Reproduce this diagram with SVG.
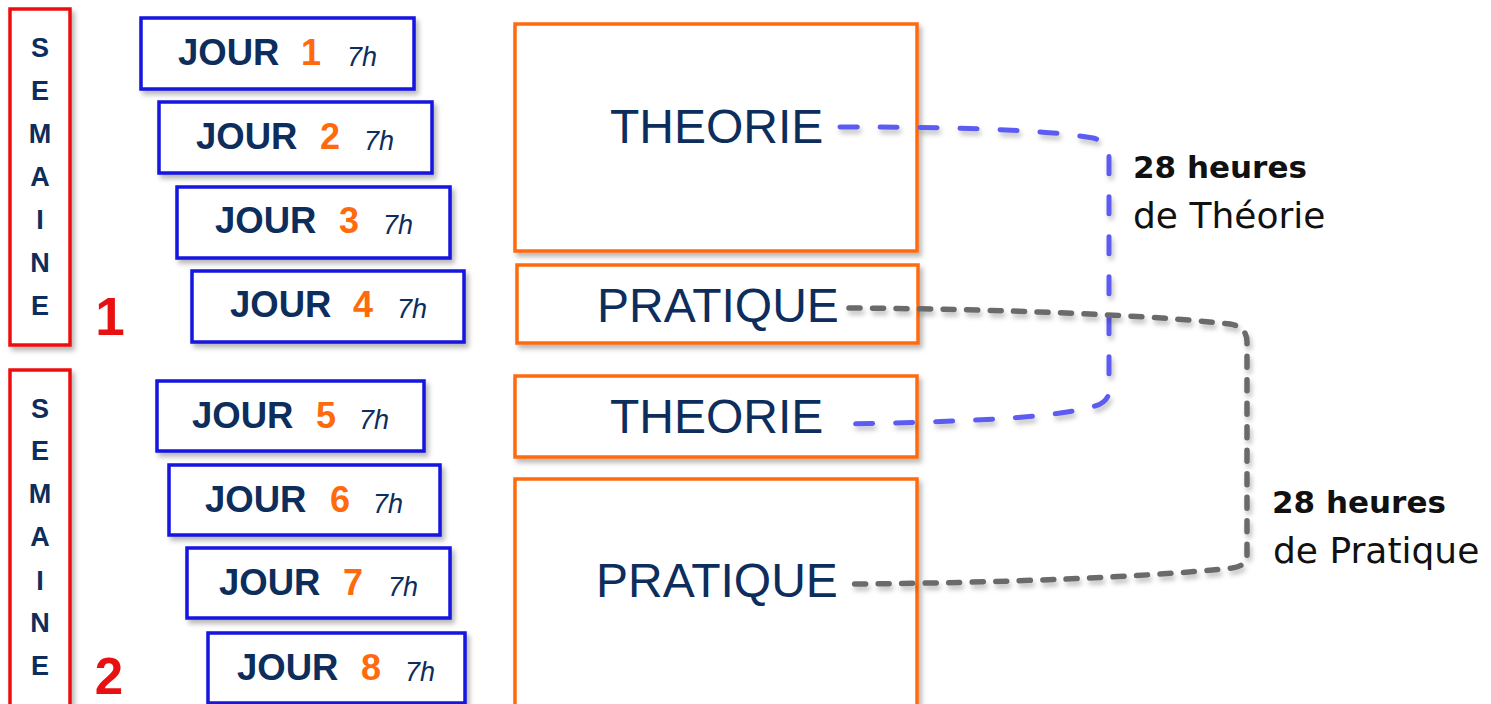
<svg xmlns="http://www.w3.org/2000/svg" width="1491" height="704" viewBox="0 0 1491 704">
<defs>
<filter id="sh" x="-10%" y="-10%" width="130%" height="140%">
<feDropShadow dx="3" dy="4" stdDeviation="2.5" flood-color="#000" flood-opacity="0.28"/>
</filter>
<filter id="lsh" x="-5%" y="-10%" width="110%" height="130%">
<feDropShadow dx="2" dy="4" stdDeviation="2.5" flood-color="#000" flood-opacity="0.25"/>
</filter>
<style>
.sem{fill:#fff;stroke:#ee1111;stroke-width:3.5}
.day{fill:#fff;stroke:#1515e0;stroke-width:3.5}
.blk{fill:#fff;stroke:#ff6a0d;stroke-width:3.5}
.let{font-family:"Liberation Sans",Arial,sans-serif;font-weight:bold;font-size:27px;fill:#0d2d5c;text-anchor:middle}
.wk{font-family:"Liberation Sans",Arial,sans-serif;font-weight:bold;font-size:53px;fill:#e81010;text-anchor:middle}
.jour{font-family:"Liberation Sans",Arial,sans-serif;font-weight:bold;font-size:36.5px;fill:#0d2d5c}
.num{font-family:"Liberation Sans",Arial,sans-serif;font-weight:bold;font-size:36px;fill:#ff6a0d;text-anchor:middle}
.hr{font-family:"Liberation Sans",Arial,sans-serif;font-style:italic;font-size:27px;fill:#0d2d5c}
.big{font-family:"Liberation Sans",Arial,sans-serif;font-size:48px;fill:#0d2d5c}
.lb{font-family:"DejaVu Sans",sans-serif;font-weight:bold;font-size:31px;fill:#111}
.lr{font-family:"DejaVu Sans",sans-serif;font-size:36px;fill:#111}
.cb{fill:none;stroke:#5c5cf2;stroke-width:5;stroke-linecap:round;stroke-dasharray:17 23}
.cg{fill:none;stroke:#6b6b6b;stroke-width:5.5;stroke-linecap:round;stroke-dasharray:11 12.5}
</style>
</defs>
<rect width="1491" height="704" fill="#fff"/>

<g id="semaine1">
<rect class="sem" x="10" y="9" width="60" height="336" filter="url(#sh)"/>
<text class="let" x="40" y="57">S</text>
<text class="let" x="40" y="100">E</text>
<text class="let" x="40" y="143">M</text>
<text class="let" x="40" y="186">A</text>
<text class="let" x="40" y="229">I</text>
<text class="let" x="40" y="272">N</text>
<text class="let" x="40" y="315">E</text>
<text class="wk" x="110" y="335">1</text>
</g>
<g id="semaine2">
<rect class="sem" x="10" y="370" width="60" height="345" filter="url(#sh)"/>
<text class="let" x="40" y="418">S</text>
<text class="let" x="40" y="460">E</text>
<text class="let" x="40" y="503">M</text>
<text class="let" x="40" y="546">A</text>
<text class="let" x="40" y="590">I</text>
<text class="let" x="40" y="632">N</text>
<text class="let" x="40" y="675">E</text>
<text class="wk" x="109" y="694" style="font-size:51px">2</text>
</g>

<g id="jour1"><rect class="day" x="141" y="18" width="273" height="71" filter="url(#sh)"/><text class="jour" x="178" y="65">JOUR</text><text class="num" x="311" y="65">1</text><text class="hr" x="347" y="66">7h</text></g>
<g id="jour2"><rect class="day" x="159" y="102" width="273" height="71" filter="url(#sh)"/><text class="jour" x="196" y="149">JOUR</text><text class="num" x="330" y="149">2</text><text class="hr" x="364" y="150">7h</text></g>
<g id="jour3"><rect class="day" x="177" y="187" width="273" height="71" filter="url(#sh)"/><text class="jour" x="215" y="233">JOUR</text><text class="num" x="349" y="233">3</text><text class="hr" x="383" y="234">7h</text></g>
<g id="jour4"><rect class="day" x="192" y="271" width="272" height="71" filter="url(#sh)"/><text class="jour" x="230" y="317">JOUR</text><text class="num" x="363" y="317">4</text><text class="hr" x="397" y="318">7h</text></g>
<g id="jour5"><rect class="day" x="157" y="381" width="267" height="70" filter="url(#sh)"/><text class="jour" x="192" y="428">JOUR</text><text class="num" x="326" y="428">5</text><text class="hr" x="359" y="429">7h</text></g>
<g id="jour6"><rect class="day" x="169" y="465" width="271" height="70" filter="url(#sh)"/><text class="jour" x="205" y="512">JOUR</text><text class="num" x="340" y="512">6</text><text class="hr" x="373" y="513">7h</text></g>
<g id="jour7"><rect class="day" x="187" y="548" width="263" height="70" filter="url(#sh)"/><text class="jour" x="219" y="595">JOUR</text><text class="num" x="353" y="595">7</text><text class="hr" x="388" y="596">7h</text></g>
<g id="jour8"><rect class="day" x="208" y="633" width="257" height="70" filter="url(#sh)"/><text class="jour" x="237" y="680">JOUR</text><text class="num" x="371" y="680">8</text><text class="hr" x="405" y="681">7h</text></g>

<g id="theorie1"><rect class="blk" x="515" y="24" width="402" height="227" filter="url(#sh)"/><text class="big" x="610" y="143">THEORIE</text></g>
<g id="pratique1"><rect class="blk" x="517" y="265" width="401" height="78" filter="url(#sh)"/><text class="big" x="597" y="322">PRATIQUE</text></g>
<g id="theorie2"><rect class="blk" x="515" y="376" width="402" height="81" filter="url(#sh)"/><text class="big" x="610" y="433">THEORIE</text></g>
<g id="pratique2"><rect class="blk" x="515" y="479" width="402" height="240" filter="url(#sh)"/><text class="big" x="596" y="597">PRATIQUE</text></g>

<g id="connectors">
<path class="cb" filter="url(#lsh)" d="M840,127 C 960,127 1050,130 1093,138 Q1109,142 1109,158 L1109,390 Q1109,402 1095,406 C 1060,416 1000,421 849,424"/>
<path class="cg" filter="url(#lsh)" d="M849,308 C 1000,309 1150,315 1230,324 Q1247,327 1247,342 L1247,555 Q1247,566 1232,568 C 1150,577 1000,583 850,584"/>
</g>

<g id="label-theorie">
<text class="lb" x="1133" y="178">28 heures</text>
<text class="lr" x="1133" y="228">de Théorie</text>
</g>
<g id="label-pratique">
<text class="lb" x="1272" y="513">28 heures</text>
<text class="lr" x="1273" y="563">de Pratique</text>
</g>
</svg>
